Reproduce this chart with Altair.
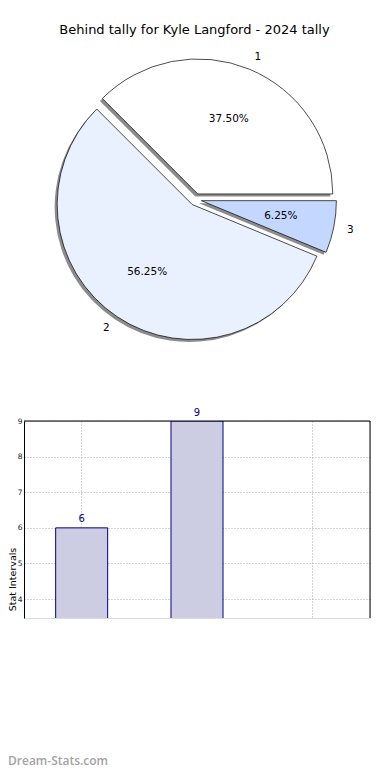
import altair as alt
import pandas as pd

# ---------------- data ----------------
title_text = "Behind tally for Kyle Langford - 2024 tally"
slice_labels = ["1", "2", "3"]
slice_values = [6, 9, 1]
slice_colors = ["#ffffff", "#eaf1fe", "#c4d8ff"]

bar_categories = ["1", "2", "3"]
bar_values = [6, 9, 1]
y_ticks = [4, 5, 6, 7, 8, 9]
y_axis_title = "Stat Intervals"
watermark = "Dream-Stats.com"

# ---------------- layout constants (pixels, relative to bar plot origin) ----------------
PAD_L, PAD_T = 16, 413
PLOT_W, PLOT_H = 346, 197
PAD_R = 374 - PAD_L - PLOT_W
PAD_B = 764 - PAD_T - PLOT_H
CX, CY = 195.5 - 8 - PAD_L, 199.5 - 8 - PAD_T
R = 135
EXPLODE = 6
SH_DX, SH_DY = -2.5, 2.5
Y_MIN = 3.47

pie_df = pd.DataFrame({
    "label": slice_labels,
    "value": slice_values,
    "color": slice_colors,
    "order": list(range(len(slice_labels))),
})
bar_df = pd.DataFrame({"cat": bar_categories, "v": bar_values})
one = pd.DataFrame({"k": [0]})

pie_base = (
    alt.Chart(pie_df)
    .transform_joinaggregate(total="sum(value)")
    .transform_window(cum_end="sum(value)", sort=[alt.SortField("order")], frame=[None, 0])
    .transform_calculate(a0="2*PI*(datum.cum_end - datum.value)/datum.total")
    .transform_calculate(a1="2*PI*datum.cum_end/datum.total")
    .transform_calculate(mid="(datum.a0 + datum.a1)/2")
    .transform_calculate(th="PI/2 - datum.a1")
    .transform_calculate(th2="PI/2 - datum.a0")
    .transform_calculate(cx=f"{CX} + {EXPLODE}*cos(datum.mid)")
    .transform_calculate(cy=f"{CY} - {EXPLODE}*sin(datum.mid)")
    .transform_calculate(sx=f"datum.cx + {SH_DX}")
    .transform_calculate(sy=f"datum.cy + {SH_DY}")
    .transform_calculate(px=f"datum.cx + {0.6 * R}*cos(datum.mid)")
    .transform_calculate(py=f"datum.cy - {0.6 * R}*sin(datum.mid)")
    .transform_calculate(lx=f"datum.cx + {1.1 * R}*cos(datum.mid)")
    .transform_calculate(ly=f"datum.cy - {1.1 * R}*sin(datum.mid)")
    .transform_calculate(pct="format(100*datum.value/datum.total, '.2f') + '%'")
)

shadow = pie_base.mark_arc(radius=R, fill="#8c8c8c", strokeWidth=0).encode(
    x=alt.X("sx:Q", scale=None, axis=None),
    y=alt.Y("sy:Q", scale=None, axis=None),
    theta=alt.Theta("th:Q", scale=None, stack=None),
    theta2="th2:Q",
)
arcs = pie_base.mark_arc(radius=R, stroke="black", strokeWidth=0.7).encode(
    x=alt.X("cx:Q", scale=None, axis=None),
    y=alt.Y("cy:Q", scale=None, axis=None),
    theta=alt.Theta("th:Q", scale=None, stack=None),
    theta2="th2:Q",
    fill=alt.Fill("color:N", scale=None, legend=None),
)
pct_text = pie_base.mark_text(fontSize=10.5, font="DejaVu Sans", color="black",
                              align="center", baseline="middle").encode(
    x=alt.X("px:Q", scale=None, axis=None),
    y=alt.Y("py:Q", scale=None, axis=None),
    text="pct:N",
)
lab_right = pie_base.transform_filter("cos(datum.mid) >= 0").mark_text(
    fontSize=10.5, font="DejaVu Sans", color="black", align="left", baseline="middle"
).encode(
    x=alt.X("lx:Q", scale=None, axis=None),
    y=alt.Y("ly:Q", scale=None, axis=None),
    text="label:N",
)
lab_left = pie_base.transform_filter("cos(datum.mid) < 0").mark_text(
    fontSize=10.5, font="DejaVu Sans", color="black", align="right", baseline="middle"
).encode(
    x=alt.X("lx:Q", scale=None, axis=None),
    y=alt.Y("ly:Q", scale=None, axis=None),
    text="label:N",
)

grid_kw = dict(grid=True, gridColor="#a8a8a8", gridDash=[1, 2], gridWidth=1)
x_scale = alt.Scale(paddingInner=0, paddingOuter=0)
y_scale = alt.Scale(domain=[Y_MIN, 9], nice=False, zero=False)
x_axis = alt.Axis(title=None, labels=False, ticks=False, domain=False, **grid_kw)
y_axis = alt.Axis(
    values=y_ticks, format="d", title=y_axis_title, labelOverlap=False,
    labelFontSize=7.5, labelFont="DejaVu Sans", labelColor="#222222", labelPadding=2,
    ticks=False, domain=True, domainColor="black", domainWidth=1,
    titleFont="DejaVu Sans", titleFontSize=9.5, titleFontWeight="normal", titleColor="black",
    titleAngle=270, titleAlign="center", titleBaseline="bottom",
    titleX=-6.8, titleY=158,
    **grid_kw,
)
x_enc = alt.X("cat:N", sort=None, scale=x_scale, axis=x_axis)
y_enc = alt.Y("v:Q", scale=y_scale, axis=y_axis)

bars = alt.Chart(bar_df).mark_bar(
    width=52, fill="#cccce3", stroke="#000080", strokeWidth=1, clip=True
).encode(x=x_enc, y=y_enc)

bar_text = alt.Chart(bar_df).transform_filter(f"datum.v >= {Y_MIN}").mark_text(
    fontSize=10, font="DejaVu Sans", color="#00008b", align="center",
    baseline="alphabetic", dy=-5.5
).encode(x=x_enc, y=y_enc, text=alt.Text("v:Q", format="d"))

frame_top = alt.Chart(one).mark_rule(color="black", strokeWidth=1).encode(
    x=alt.value(0), x2=alt.value(PLOT_W), y=alt.value(0)
)
frame_right = alt.Chart(one).mark_rule(color="black", strokeWidth=1).encode(
    x=alt.value(PLOT_W), y=alt.value(0), y2=alt.value(PLOT_H)
)
wm = alt.Chart(one).mark_text(
    align="left", baseline="alphabetic", font="Open Sans", fontSize=12,
    fontWeight=600, color="#a3a3a3"
).encode(x=alt.value(-PAD_L), y=alt.value(344), text=alt.value(watermark))

chart = alt.layer(
    shadow, arcs, pct_text, lab_right, lab_left,
    bars, bar_text, frame_top, frame_right, wm
).properties(
    width=PLOT_W,
    height=PLOT_H,
    autosize=alt.AutoSizeParams(type="none"),
    padding={"left": PAD_L, "top": PAD_T, "right": PAD_R, "bottom": PAD_B},
    title=alt.TitleParams(
        title_text, frame="group", anchor="middle", offset=4.5, dx=-2.5,
        baseline="alphabetic", fontSize=13, font="DejaVu Sans",
        fontWeight="normal", color="black",
    ),
).configure_view(strokeWidth=0, stroke="transparent").configure(font="DejaVu Sans")

chart.save("out.html", embed_options={"renderer": "svg", "actions": False})
